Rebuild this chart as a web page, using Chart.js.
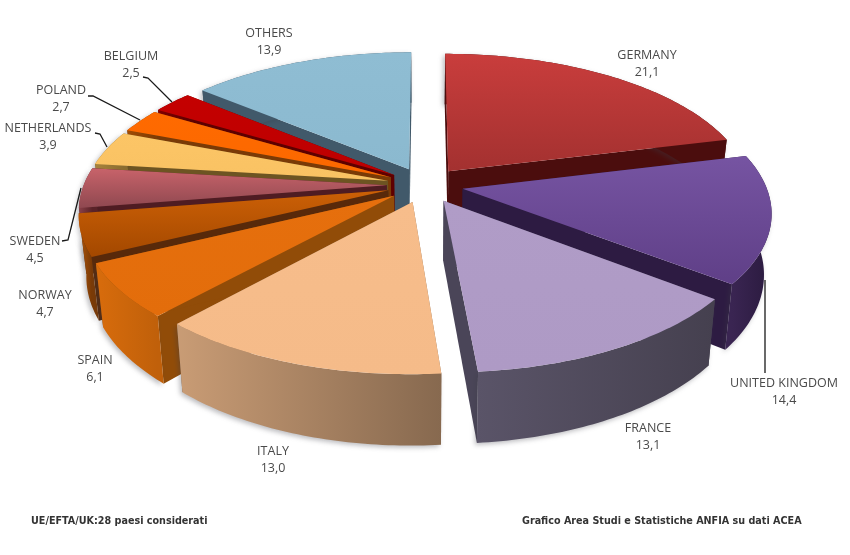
<!DOCTYPE html>
<html><head><meta charset="utf-8">
<style>html,body{margin:0;padding:0;background:#fff}#w{width:850px;height:555px}</style>
<script src="https://cdn.jsdelivr.net/npm/chart.js@4"></script>
</head><body><div id="w"><canvas id="c" width="850" height="555"></canvas></div>
<script>
const categories = ['GERMANY','UNITED KINGDOM','FRANCE','ITALY','SPAIN','NORWAY','SWEDEN','NETHERLANDS','POLAND','BELGIUM','OTHERS'];
const values = [21.1,14.4,13.1,13.0,6.1,4.7,4.5,3.9,2.7,2.5,13.9];
const topLight = ['#c93d3c','#7654a2','#b09cc7','#f7bd8b','#e66f0d','#cc6006','#c8636a','#fcc566','#ff6a00','#c40000','#8fbdd3'];
const topDark  = ['#a33130','#5f3f87','#ae9ac5','#f5bb89','#e36d0b','#a34800','#8f4850','#f9c263','#fb6800','#bd0000','#8bb9cf'];
const radialWall = ['#4b0d0d','#2d1b42','#4a4558','#8c6d52','#914c08','#58290a','#4f1c22','#6d5422','#7a3a06','#5e0000','#41596a'];
const outerLeft  = ['#4b0d0d','#3a2552','#5a5468','#c99c75','#d86c0c','#b0560a','#8a4048','#a8843c','#a04c04','#800000','#41596a'];
const outerRight = ['#4b0d0d','#2a1a3e','#45404f','#87694f','#c0600a','#7a3a06','#5a2228','#8a6c30','#803c04','#600000','#41596a'];
const drawOrder = [10,0,9,8,7,6,5,4,1,2,3];
const labelAnchors = [[647,55],[784,383],[648,428],[273,451],[95,360],[45,295],[35,241],[48,128],[61,90],[131,56],[269,33]];
const leaderLines = [
  [[143,77],[148,78],[172,102]],
  [[88,96],[93,96],[140,120]],
  [[95,133],[100,134],[107,147]],
  [[62,241],[68,240],[81,188]],
  [[765,280],[765,373]]
];
const footLeft = 'UE/EFTA/UK:28 paesi considerati';
const footRight = 'Grafico Area Studi e Statistiche ANFIA su dati ACEA';

const PX = 303, PY = 139.6, PK = 0.155, DEPTH = 59, SHRINK = 0.022;

const pie3d = {
  id:'pie3d',
  beforeDatasetsDraw(chart){
    const ctx = chart.ctx, meta = chart.getDatasetMeta(0);
    drawOrder.forEach(i=>{
      const el = meta.data[i];
      const p = el.getProps(['x','y','startAngle','endAngle','outerRadius']);
      const mid = (p.startAngle+p.endAngle)/2, e = el.options.offset/p.outerRadius;
      const eu = e*Math.cos(mid), ev = e*Math.sin(mid);
      const proj = (u,v)=>{
        const d = 1-PK*v;
        return {x:p.x+PX*u/d, y:p.y+PY*v/d, bx:p.x+PX*u/d*(1-SHRINK), by:p.y+PY*v/d+DEPTH/d};
      };
      const rim = [];
      const n = Math.max(8,Math.ceil((p.endAngle-p.startAngle)*60));
      for(let s=0;s<=n;s++){
        const a = p.startAngle+(p.endAngle-p.startAngle)*s/n;
        rim.push(proj(eu+Math.cos(a),ev+Math.sin(a)));
      }
      const tip = proj(eu,ev);
      const wall = (a,b,fill)=>{
        ctx.beginPath();
        ctx.moveTo(a.x,a.y);ctx.lineTo(b.x,b.y);ctx.lineTo(b.bx,b.by);ctx.lineTo(a.bx,a.by);ctx.closePath();
        ctx.fillStyle=fill;ctx.fill();
      };
      // radial walls
      wall(tip,rim[0],radialWall[i]);
      wall(tip,rim[rim.length-1],radialWall[i]);
      ctx.save();
      ctx.shadowColor='rgba(60,60,70,0.35)';ctx.shadowBlur=5;ctx.shadowOffsetX=-2;ctx.shadowOffsetY=2;
      // outer wall
      const xs = rim.map(r=>r.x), minX=Math.min(...xs), maxX=Math.max(...xs);
      const g = ctx.createLinearGradient(minX,0,maxX,0);
      g.addColorStop(0,outerLeft[i]);g.addColorStop(1,outerRight[i]);
      ctx.beginPath();
      rim.forEach((r,j)=>j?ctx.lineTo(r.x,r.y):ctx.moveTo(r.x,r.y));
      rim.slice().reverse().forEach(r=>ctx.lineTo(r.bx,r.by));
      ctx.closePath();ctx.fillStyle=g;ctx.fill();
      ctx.restore();
      // top surface
      const ys = rim.map(r=>r.y).concat(tip.y);
      const tg = ctx.createLinearGradient(0,Math.min(...ys),0,Math.max(...ys));
      tg.addColorStop(0,topLight[i]);tg.addColorStop(1,topDark[i]);
      ctx.beginPath();ctx.moveTo(tip.x,tip.y);
      rim.forEach(r=>ctx.lineTo(r.x,r.y));
      ctx.closePath();ctx.fillStyle=tg;ctx.fill();
    });
    return false;
  },
  afterDraw(chart){
    const ctx = chart.ctx;
    ctx.save();
    ctx.strokeStyle='#1a1a1a';ctx.lineWidth=1.3;
    leaderLines.forEach(l=>{
      ctx.beginPath();
      l.forEach((q,j)=>j?ctx.lineTo(q[0],q[1]):ctx.moveTo(q[0],q[1]));
      ctx.stroke();
    });
    ctx.fillStyle='#4a4a4a';ctx.textAlign='center';ctx.textBaseline='middle';
    ctx.font='12.5px "Open Sans"';
    categories.forEach((c,i)=>{
      const a = labelAnchors[i];
      ctx.fillText(c,a[0],a[1]);
      ctx.fillText(values[i].toFixed(1).replace('.',','),a[0],a[1]+17);
    });
    ctx.fillStyle='#333';ctx.textAlign='left';
    ctx.font='bold 10.7px "DejaVu Sans Condensed"';
    ctx.fillText(footLeft,31,521);
    ctx.fillText(footRight,522,521);
    ctx.restore();
  }
};
new Chart(document.getElementById('c'),{
  type:'pie',
  data:{labels:categories,datasets:[{data:values,backgroundColor:topLight,borderWidth:0,offset:22}]},
  options:{responsive:false,animation:false,
    layout:{padding:{bottom:185}},
    plugins:{legend:{display:false},tooltip:{enabled:false},title:{display:false}}},
  plugins:[pie3d]
});
</script></body></html>
